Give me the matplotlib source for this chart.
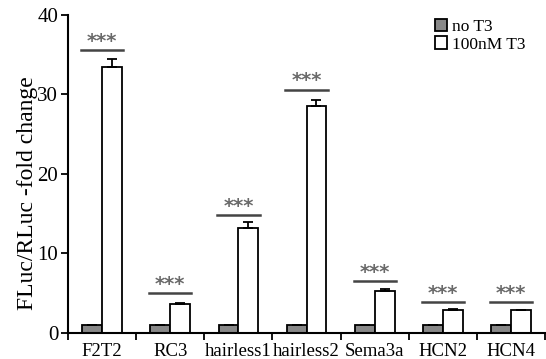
import matplotlib.pyplot as plt
import numpy as np
from matplotlib.patches import Patch

plt.rcParams['font.family'] = ['Liberation Serif', 'DejaVu Serif']

genes = ["F2T2", "RC3", "hairless1", "hairless2", "Sema3a", "HCN2", "HCN4"]
no_t3 = [1.0, 1.0, 1.0, 1.0, 1.0, 1.0, 1.0]
no_t3_err = [0.05, 0.05, 0.05, 0.05, 0.05, 0.05, 0.05]
t3 = [33.5, 3.6, 13.2, 28.5, 5.3, 2.95, 2.9]
t3_err = [1.0, 0.2, 0.7, 0.85, 0.2, 0.08, 0.05]
sig_line = [35.6, 5.0, 14.8, 30.6, 6.5, 3.9, 3.9]

x = np.arange(len(genes))
w = 0.29

fig = plt.figure(figsize=(5.46, 3.59), dpi=100)
ax = fig.add_axes([0.1245, 0.0724, 0.874, 0.886])

ekw = dict(ecolor='black', elinewidth=1.3, capsize=3.5, capthick=1.3)
ax.bar(x - w / 2, no_t3, w, color='#888888', edgecolor='black', linewidth=1.3,
       yerr=[np.zeros(len(genes)), no_t3_err], error_kw=ekw)
ax.bar(x + w / 2, t3, w, color='white', edgecolor='black', linewidth=1.3,
       yerr=[np.zeros(len(genes)), t3_err], error_kw=ekw)

for i, h in enumerate(sig_line):
    ax.plot([x[i] - w - 0.02, x[i] + w + 0.02], [h, h], color='#444444', lw=1.8)
    ax.text(x[i], h + 1.1, "***", ha='center', va='center', fontsize=14,
            fontweight='bold', color='#6a6a6a', family='DejaVu Sans')

ax.set_xlim(-0.5, len(genes) - 0.5)
ax.set_ylim(0, 40)
ax.set_yticks([0, 10, 20, 30, 40])
ax.set_xticks(x)
ax.set_xticklabels(genes)
ax.set_xticks(np.arange(-0.5, len(genes), 1), minor=True)
ax.tick_params(axis='x', which='major', length=0, labelsize=13.5, pad=7)
ax.tick_params(axis='x', which='minor', length=5, width=1.3, direction='out')
ax.tick_params(axis='y', length=5, width=1.3, labelsize=15, pad=2)
ax.set_ylabel("FLuc/RLuc -fold change", fontsize=17)
ax.yaxis.set_label_coords(-0.062, 0.44)

for s in ['top', 'right']:
    ax.spines[s].set_visible(False)
for s in ['left', 'bottom']:
    ax.spines[s].set_linewidth(1.5)

handles = [Patch(facecolor='#888888', edgecolor='black', linewidth=1.3, label='no T3'),
           Patch(facecolor='white', edgecolor='black', linewidth=1.3, label='100nM T3')]
ax.legend(handles=handles, loc='upper left', bbox_to_anchor=(0.754, 1.008), frameon=False,
          fontsize=12.5, handlelength=0.7, handleheight=0.7, handletextpad=0.3,
          labelspacing=0.05, borderaxespad=0)

fig.savefig("out.png", dpi=100)
